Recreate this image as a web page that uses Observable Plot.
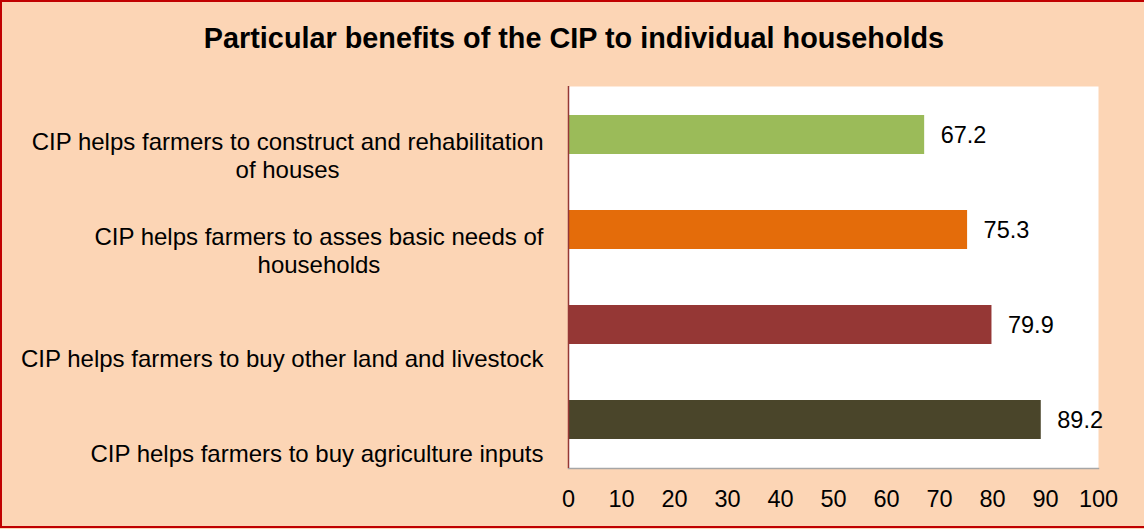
<!DOCTYPE html>
<html><head><meta charset="utf-8">
<script src="https://cdn.jsdelivr.net/npm/d3@7"></script>
<script src="https://cdn.jsdelivr.net/npm/@observablehq/plot@0.6"></script>
<style>
body{margin:0;background:#fff;}
#chart{position:relative;width:1144px;height:529px;background:#FCD5B5;font-family:"Liberation Sans",Arial,sans-serif;overflow:hidden;}
#title{height:70px;box-sizing:border-box;padding-top:22px;line-height:32px;text-align:center;font-weight:bold;font-size:28.8px;color:#000;padding-left:4px;white-space:nowrap;}
#plot svg{display:block;}
#border{position:absolute;left:0;top:0;width:1144px;height:528px;box-sizing:border-box;border-left:2px solid #C00000;border-top:2px solid #C00000;border-bottom:2px solid #C00000;pointer-events:none;}
</style></head><body>
<div id="chart"><div id="title"></div><div id="plot"></div><div id="border"></div></div>
<script>
const titleText = "Particular benefits of the CIP to individual households";
const categories = [
  "CIP helps farmers to construct and rehabilitation\nof houses",
  "CIP helps farmers to asses basic needs of\nhouseholds",
  "CIP helps farmers to buy other land and livestock",
  "CIP helps farmers to buy agriculture inputs"
];
const values = [67.2, 75.3, 79.9, 89.2];
const colors = ["#9BBB59", "#E46C0A", "#953735", "#4A452A"];
const xTicks = [0, 10, 20, 30, 40, 50, 60, 70, 80, 90, 100];

document.getElementById("title").textContent = titleText;
const data = categories.map((c, i) => ({category: c, value: values[i], color: colors[i]}));
const font = '"Liberation Sans", Arial, sans-serif';

const chart = Plot.plot({
  width: 1144, height: 459,
  marginLeft: 568, marginRight: 46, marginTop: 16, marginBottom: 61,
  style: {background: "transparent", fontFamily: font, fontSize: "23.5px", color: "#000", overflow: "visible"},
  x: {domain: [0, 100], ticks: xTicks, tickSize: 0, tickPadding: 22, label: null},
  y: {domain: categories, paddingInner: 0.59, paddingOuter: 0.295, axis: null},
  color: {type: "identity"},
  marks: [
    Plot.frame({fill: "white", stroke: null}),
    Plot.frame({anchor: "bottom", stroke: "#A6A6A6", strokeWidth: 1.5}),
    Plot.barX(data, {x: "value", y: "category", fill: "color"}),
    Plot.ruleX([0], {stroke: "#953735", strokeWidth: 1.5}),
    Plot.text(data, {x: "value", y: "category", text: d => d.value.toFixed(1), textAnchor: "start", dx: 16, fill: "#000", fontSize: 23.5}),
    Plot.text(data.filter(d => d.category.includes("\n")), {y: "category", text: "category", frameAnchor: "left", dx: -25, textAnchor: "end", lineAnchor: "middle", lineHeight: 1.19, dy: 20, fill: "#000", fontSize: 24, className: "catlabel"}),
    Plot.text(data.filter(d => !d.category.includes("\n")), {y: "category", text: "category", frameAnchor: "left", dx: -25, textAnchor: "end", lineAnchor: "middle", dy: 34, fill: "#000", fontSize: 24, className: "catlabel"})
  ]
});
document.getElementById("plot").appendChild(chart);

// center the lines of each multi-line label within its right-aligned block
chart.querySelectorAll(".catlabel text").forEach(t => {
  const spans = t.querySelectorAll("tspan");
  if (spans.length < 2) return;
  let w = 0;
  spans.forEach(s => { w = Math.max(w, s.getComputedTextLength()); });
  t.setAttribute("text-anchor", "middle");
  spans.forEach(s => s.setAttribute("x", -w / 2));
});
</script>
</body></html>
